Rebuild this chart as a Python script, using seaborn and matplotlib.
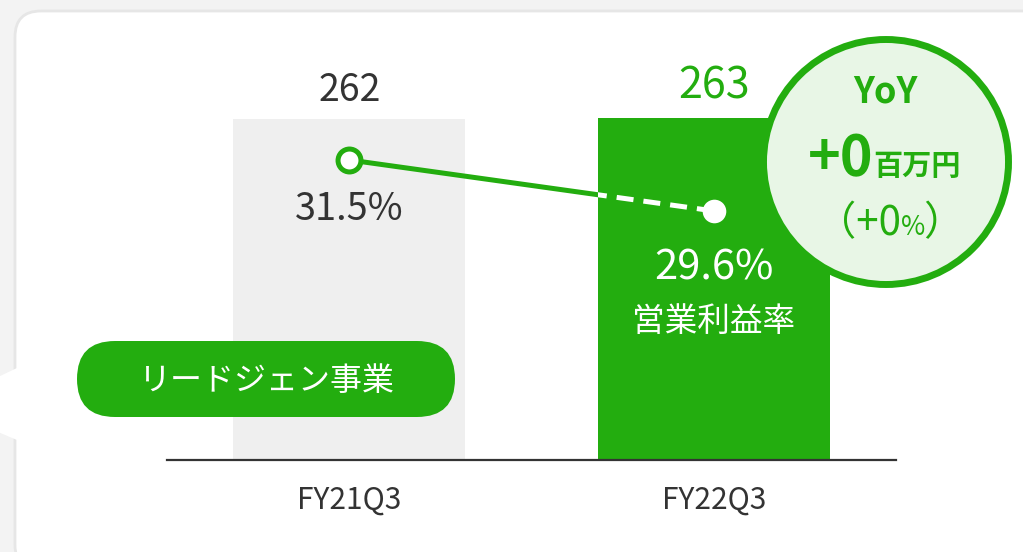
import numpy as np
import pandas as pd
import matplotlib.pyplot as plt
import seaborn as sns
from matplotlib.patches import FancyBboxPatch, Circle, Polygon

# data
periods = ['FY21Q3', 'FY22Q3']
profit = [262, 263]            # 営業利益 (百万円)
margin = [31.5, 29.6]          # 営業利益率 (%)
margin_labels = ['31.5%', '29.6%']
margin_name = '営業利益率'
segment = 'リードジェン事業'
yoy_title = 'YoY'
yoy_amount = '+0'
yoy_unit = '百万円'
yoy_pct = '+0'

GREEN = '#23ad0f'
GRAY_BAR = '#efefef'
DARK = '#333333'
PALE = '#e8f6e6'

sns.set_theme(style='white')
plt.rcParams['font.family'] = ['Noto Sans CJK JP', 'DejaVu Sans']

W, H = 1023, 552
fig = plt.figure(figsize=(W / 100, H / 100), dpi=100, facecolor='#f3f3f3')

# card background (pixel coords)
bg = fig.add_axes([0, 0, 1, 1], zorder=0)
bg.set_xlim(0, W)
bg.set_ylim(H, 0)
bg.axis('off')
bg.add_patch(FancyBboxPatch((15, 11), 1040, 560, boxstyle='round,pad=0,rounding_size=26',
                            fc='white', ec='#e6e6e6', lw=2))
bg.add_patch(Polygon([(17, 368), (-2, 377), (-2, 432), (17, 440)], closed=True, fc='white', ec='none'))

# bars
ax = fig.add_axes([167 / W, (H - 460) / H, (896 - 167) / W, 420 / H], zorder=1)
ax.patch.set_visible(False)
df = pd.DataFrame({'period': periods, 'profit': profit, 'margin': margin})
sns.barplot(data=df, x='period', y='profit', hue='period', palette=[GRAY_BAR, GREEN],
            width=232 / 365, saturation=1, linewidth=0, legend=False, ax=ax)
ax.set_xlim(-0.5, 1.5)
ax.set_ylim(0, 323)
sns.despine(ax=ax, left=True)
ax.spines['bottom'].set_color(DARK)
ax.spines['bottom'].set_linewidth(1.6)
ax.set_xlabel('')
ax.set_ylabel('')
ax.set_yticks([])
ax.tick_params(axis='x', length=0, pad=18, labelsize=21.5, labelcolor=DARK)
for cont, col, fs in zip(ax.containers, [DARK, GREEN], [27, 31]):
    ax.bar_label(cont, fmt='%d', padding=7, fontsize=fs, color=col)

# margin line
xpos = np.arange(len(periods))
ax2 = ax.twinx()
ax2.set_zorder(2)
ax2.patch.set_visible(False)
sns.lineplot(x=xpos, y=margin, color=GREEN, lw=3.6, ax=ax2)
dash, = ax2.plot(xpos, margin, color='white', lw=3.6, dashes=(3.4, 2.0))
dash.set_clip_path(ax.patches[1])
ax2.plot(xpos[:1], margin[:1], 'o', ms=16.5, mfc='white', mec=GREEN, mew=3.6)
ax2.plot(xpos[1:], margin[1:], 'o', ms=17, mfc='white', mec='white', mew=0)
ax2.set_ylim(20.32, 35.97)
ax2.axis('off')
for i, (lab, col, off, fs) in enumerate(zip(margin_labels, [DARK, 'white'], [-50, -57], [27.3, 30])):
    ax2.annotate(lab, (xpos[i], margin[i]), xytext=(0, off), textcoords='offset pixels',
                 ha='center', va='center', fontsize=fs, color=col)
ax2.annotate(margin_name, (xpos[1], margin[1]), xytext=(0, -111), textcoords='offset pixels',
             ha='center', va='center', fontsize=23.5, color='white')

# overlay: segment pill and YoY badge
fg = fig.add_axes([0, 0, 1, 1], zorder=3)
fg.set_xlim(0, W)
fg.set_ylim(H, 0)
fg.axis('off')
fg.patch.set_visible(False)
fg.add_patch(FancyBboxPatch((77, 341), 378, 76, boxstyle='round,pad=0,rounding_size=38',
                            fc=GREEN, ec='none'))
fg.text(267, 381, segment, ha='center', va='center', fontsize=23, color='white')

fg.add_patch(Circle((886, 162), 122.5, fc=PALE, ec=GREEN, lw=5))
fg.text(885, 92, yoy_title, ha='center', va='center', fontsize=26, fontweight='bold', color=GREEN)
fg.text(874, 175, yoy_amount, ha='right', va='baseline', fontsize=40, fontweight='bold', color=GREEN)
fg.text(873, 175, yoy_unit, ha='left', va='baseline', fontsize=21, fontweight='bold', color=GREEN)
fg.text(901, 235, '（' + yoy_pct, ha='right', va='baseline', fontsize=29, color=GREEN)
fg.text(901, 235, '%', ha='left', va='baseline', fontsize=19, color=GREEN)
fg.text(923, 235, '）', ha='left', va='baseline', fontsize=29, color=GREEN)

fig.savefig('out.png', dpi=100, facecolor=fig.get_facecolor())
